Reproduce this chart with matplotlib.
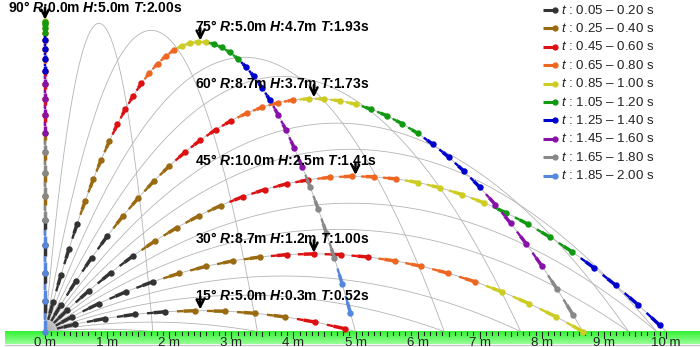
import numpy as np
import matplotlib
matplotlib.use("Agg")
import matplotlib.pyplot as plt
from matplotlib.patches import Wedge

plt.rcParams['font.family'] = ['Liberation Sans', 'DejaVu Sans']
plt.rcParams['mathtext.fontset'] = 'custom'
plt.rcParams['mathtext.rm'] = 'Liberation Sans'
plt.rcParams['mathtext.it'] = 'Liberation Sans:italic'
plt.rcParams['mathtext.bf'] = 'Liberation Sans:bold'
plt.rcParams['mathtext.bfit'] = 'Liberation Sans:bold:italic'

# launch parameters (R=10 m at 45 deg, T=2 s at 90 deg)
SPEED = 10.0     # m/s
GRAVITY = 10.0   # m/s^2
STEP = 0.05      # s between dots

ANGLES = [15, 30, 45, 60, 75, 90]
RANGES = [5.0, 8.7, 10.0, 8.7, 5.0, 0.0]
HEIGHTS = [0.3, 1.2, 2.5, 3.7, 4.7, 5.0]
TIMES = [0.52, 1.00, 1.41, 1.73, 1.93, 2.00]
GUIDE_ANGLES = [5, 10, 15, 20, 25, 30, 35, 40, 45, 50, 55, 60, 65, 70, 75, 80, 85, 90]

BAND_COLORS = ['#333333', '#9a6a10', '#dd1111', '#ee6622', '#cccc22',
               '#119911', '#0000cc', '#8811aa', '#888888', '#5588dd']
BAND_LABELS = ['0.05 – 0.20', '0.25 – 0.40', '0.45 – 0.60', '0.65 – 0.80',
               '0.85 – 1.00', '1.05 – 1.20', '1.25 – 1.40', '1.45 – 1.60',
               '1.65 – 1.80', '1.85 – 2.00']
DOTS_PER_BAND = 4
RULER_MAX = 10

# pixel geometry of the 700x347 picture
W, H_PX = 700, 347
X0_PX, Y0_PX, PX_PER_M = 45.0, 331.5, 62.1


def px_x(px):
    return (px - X0_PX) / PX_PER_M


def px_y(py):
    return (Y0_PX - py) / PX_PER_M


def position(angle, t):
    a = np.radians(angle)
    x = SPEED * np.cos(a) * t
    y = SPEED * np.sin(a) * t - 0.5 * GRAVITY * t ** 2
    return x, y


fig = plt.figure(figsize=(W / 100, H_PX / 100), dpi=100)
ax = fig.add_axes([0, 0, 1, 1])
ax.set_xlim(px_x(0), px_x(W))
ax.set_ylim(px_y(H_PX), px_y(0))
ax.axis('off')

# thin gray guide parabolas
for ang in GUIDE_ANGLES:
    t_end = 2 * SPEED * np.sin(np.radians(ang)) / GRAVITY
    tt = np.linspace(0, t_end, 200)
    gx, gy = position(ang, tt)
    ax.plot(gx, gy, color='#b4b4b4', lw=0.6, zorder=1)

# shaded blob at the origin
for k in range(6):
    r = 0.17 * (1 - k / 6)
    ax.add_patch(Wedge((0, 0), r, 0, 90, color='#bbbbbb', alpha=0.18, lw=0, zorder=1.5))

# dotted/dashed coloured trajectories
for i, ang in enumerate(ANGLES):
    n = int(round(TIMES[i] / STEP)) if ang == 90 else int(TIMES[i] / STEP + 1e-6)
    px, py = position(ang, 0.0)
    for k in range(1, n + 1):
        cx, cy = position(ang, k * STEP)
        col = BAND_COLORS[min((k - 1) // DOTS_PER_BAND, len(BAND_COLORS) - 1)]
        sx, sy = px + 0.40 * (cx - px), py + 0.40 * (cy - py)
        mx, my = px + 0.62 * (cx - px), py + 0.62 * (cy - py)
        z = 3 + i * 0.1 + k * 0.001
        ax.plot([sx, mx], [sy, my], color=col, lw=1.7, solid_capstyle='butt', zorder=z)
        ax.plot([mx, cx], [my, cy], color=col, lw=2.5, solid_capstyle='butt', zorder=z)
        ax.plot(cx, cy, 'o', color=col, ms=4.6, mec=col, mew=0, zorder=z)
        px, py = cx, cy

    # label with arrow at the apex
    peak_x = SPEED ** 2 * np.sin(np.radians(2 * ang)) / (2 * GRAVITY)
    peak_y = (SPEED * np.sin(np.radians(ang))) ** 2 / (2 * GRAVITY)
    ax.annotate('', xy=(peak_x, peak_y + 0.02), xytext=(peak_x, peak_y + 0.22),
                arrowprops=dict(arrowstyle='->', lw=1.8, color='black',
                                mutation_scale=13, shrinkA=0, shrinkB=0),
                zorder=6)
    lx = px_x(195) if peak_x > 1 else px_x(8)
    ly = min(peak_y + 0.25, px_y(8))
    label = (f"{ang}° $\\mathbfit{{R}}$:{RANGES[i]:.1f}m "
             f"$\\mathbfit{{H}}$:{HEIGHTS[i]:.1f}m $\\mathbfit{{T}}$:{TIMES[i]:.2f}s")
    ax.text(lx, ly, label, fontsize=10, fontweight='bold',
            ha='left', va='center', color='black', zorder=7)

# green ground ruler
grad = np.linspace(0, 1, 50).reshape(-1, 1)
top = np.array([0.20, 0.95, 0.20])
bot = np.array([0.60, 1.0, 0.60])
img = top[None, None, :] * (1 - grad[:, :, None]) + bot[None, None, :] * grad[:, :, None]
ax.imshow(img, extent=[px_x(5), px_x(W), px_y(344), px_y(Y0_PX)],
          aspect='auto', zorder=2, interpolation='bilinear')
ax.plot([px_x(5), px_x(W)], [px_y(344.5)] * 2, color='#c8c8c8', lw=1.0, zorder=2)

for j in range(RULER_MAX * 10 + 1):
    x = j / 10
    if j % 10 == 0:
        L = 6
    elif j % 5 == 0:
        L = 4.5
    else:
        L = 3
    ax.plot([x, x], [0, px_y(Y0_PX + L)], color='#222222', lw=0.8, zorder=2.5)
for m in range(RULER_MAX + 1):
    ax.text(m, px_y(342.5), f"{m} m", fontsize=9.5, color='#222222',
            ha='center', va='center', zorder=2.5)

# legend
for b, (col, lab) in enumerate(zip(BAND_COLORS, BAND_LABELS)):
    ry = 10 + b * 18.4
    ax.plot([543 / W, 555 / W], [1 - ry / H_PX] * 2, color=col, lw=2.2,
            transform=ax.transAxes, zorder=8, solid_capstyle='butt')
    ax.plot(555 / W, 1 - ry / H_PX, 'o', color=col, ms=4.5, mew=0,
            transform=ax.transAxes, zorder=8)
    ax.text(561 / W, 1 - ry / H_PX, f"$t$ : {lab} s", fontsize=9.6,
            color='#222222', ha='left', va='center', transform=ax.transAxes, zorder=8)

fig.savefig('out.png', dpi=100)
